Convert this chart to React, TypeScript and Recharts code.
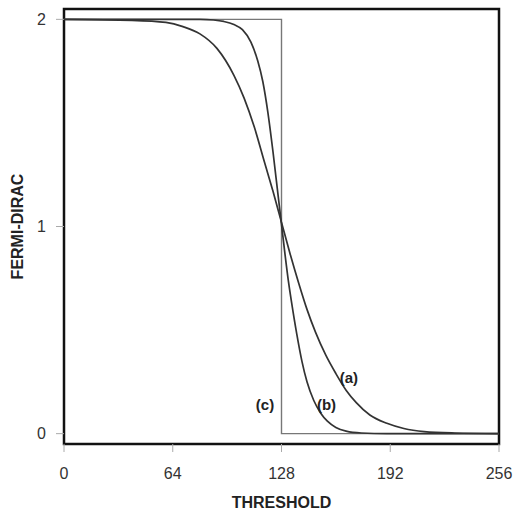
import { LineChart, Line, XAxis, YAxis, ReferenceArea, ReferenceDot, Label } from 'recharts';

// values
const curveAX = [0, 40, 60, 70, 80, 90, 100, 106, 112, 118, 123, 128, 133, 138, 143, 148, 154, 160, 166, 172, 180, 190, 200, 212, 230, 256];
const curveAY = [2, 1.995, 1.985, 1.965, 1.93, 1.86, 1.73, 1.62, 1.48, 1.31, 1.17, 1.02, 0.87, 0.73, 0.6, 0.49, 0.38, 0.29, 0.21, 0.15, 0.09, 0.05, 0.025, 0.01, 0.003, 0];

const curveBX = [0, 80, 88, 94, 100, 105, 110, 114, 117, 120, 123, 126, 128, 130, 132, 134, 137, 140, 143, 147, 151, 155, 160, 166, 175, 190, 256];
const curveBY = [2, 2, 1.997, 1.99, 1.975, 1.95, 1.89, 1.8, 1.7, 1.55, 1.36, 1.15, 1.01, 0.87, 0.74, 0.63, 0.48, 0.35, 0.25, 0.16, 0.1, 0.06, 0.03, 0.012, 0.003, 0, 0];

const curveCX = [0, 128, 128, 256];
const curveCY = [2, 2, 0, 0];

const xTicks = [0, 64, 128, 192, 256];
const yTicks = [0, 1, 2];

const curveLabels = [
  { text: '(a)', x: 167.7, y: 0.27 },
  { text: '(b)', x: 154.5, y: 0.14 },
  { text: '(c)', x: 118.3, y: 0.14 },
];

const toRows = (xs: number[], ys: number[]) => xs.map((x, i) => ({ x, y: ys[i] }));

const dataA = toRows(curveAX, curveAY);
const dataB = toRows(curveBX, curveBY);
const dataC = toRows(curveCX, curveCY);

const font = '"Liberation Sans", Arial, sans-serif';
const tickStyle = { fontSize: 16, fill: '#333', fontFamily: font };

export default function App() {
  return (
    <div style={{ position: 'absolute', left: 0, top: 0, width: 514, height: 511, background: '#fff', fontFamily: font }}>
      <LineChart width={514} height={511} margin={{ top: 9, right: 15, left: 0, bottom: 0 }}>
        <XAxis
          type="number"
          dataKey="x"
          domain={[0, 256]}
          ticks={xTicks}
          allowDataOverflow
          axisLine={false}
          tickSize={8}
          tickMargin={16}
          tickLine={{ stroke: '#aaa' }}
          tick={tickStyle}
          height={67}
        >
          <Label
            value="THRESHOLD"
            position="insideBottom"
            offset={3}
            style={{ fontSize: 16, fontWeight: 'bold', fill: '#222', fontFamily: font }}
          />
        </XAxis>
        <YAxis
          type="number"
          domain={[-0.05, 2.05]}
          ticks={yTicks}
          allowDataOverflow
          axisLine={false}
          tickSize={8}
          tickMargin={10}
          tickLine={{ stroke: '#aaa' }}
          tick={tickStyle}
          width={64}
        >
          <Label
            content={({ viewBox }: any) => {
              const cx = viewBox.x + 17;
              const cy = viewBox.y + viewBox.height / 2;
              return (
                <text
                  x={cx}
                  y={cy}
                  transform={`rotate(-90 ${cx} ${cy})`}
                  textAnchor="middle"
                  dominantBaseline="central"
                  style={{ fontSize: 16, fontWeight: 'bold', fill: '#222', fontFamily: font }}
                >
                  FERMI-DIRAC
                </text>
              );
            }}
          />
        </YAxis>
        <ReferenceArea x1={0} x2={256} y1={-0.05} y2={2.05} fill="none" stroke="#111" strokeWidth={2.5} />
        <Line data={dataC} dataKey="y" type="linear" stroke="#777" strokeWidth={1.4} dot={false} isAnimationActive={false} />
        <Line data={dataA} dataKey="y" type="monotone" stroke="#333" strokeWidth={1.7} dot={false} isAnimationActive={false} />
        <Line data={dataB} dataKey="y" type="monotone" stroke="#333" strokeWidth={1.7} dot={false} isAnimationActive={false} />
        {curveLabels.map((l) => (
          <ReferenceDot key={l.text} x={l.x} y={l.y} r={0} stroke="none" fill="none">
            <Label
              value={l.text}
              position="center"
              style={{ fontSize: 15, fontWeight: 'bold', fill: '#222', fontFamily: font }}
            />
          </ReferenceDot>
        ))}
      </LineChart>
    </div>
  );
}
